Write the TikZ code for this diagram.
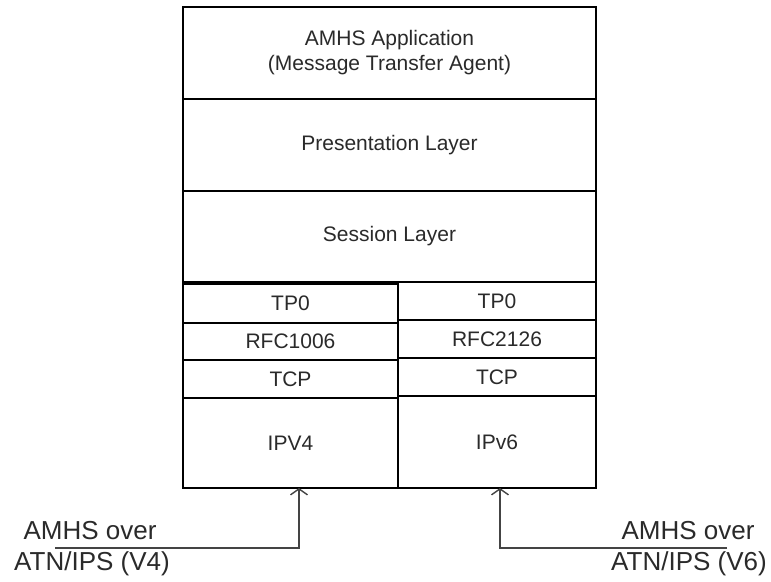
\documentclass[tikz,border=0pt]{standalone}
\usepackage{fontspec}
\setmainfont{Liberation Sans}
\usetikzlibrary{arrows.meta}
\definecolor{txt}{HTML}{2A2A2A}
\definecolor{arr}{HTML}{444444}
\begin{document}
\begin{tikzpicture}[x=1pt,y=-1pt,
  layer/.style={draw=black, line width=2.3pt, inner sep=0pt, outer sep=0pt,
    align=center, text=txt, font=\fontsize{21}{25}\selectfont},
  lbl/.style={text=txt, inner sep=0pt, align=center, font=\fontsize{26}{30}\selectfont},
  feed/.style={draw=arr, line width=1.7pt, -{Straight Barb[length=6pt,width=17pt,line width=1.4pt]}}]
\useasboundingbox (0,0) rectangle (771,581);
\fill[white] (0,0) rectangle (771,581);
% upper layers
\node[layer, minimum width=413pt, minimum height=92pt] (app) at (389.5,53)
  {AMHS Application\\(Message Transfer Agent)};
\node[layer, minimum width=413pt, minimum height=92pt] (pres) at (389.5,145) {Presentation Layer};
\node[layer, minimum width=413pt, minimum height=91pt] (sess) at (389.5,236.5) {Session Layer};
% left stack
\node[layer, minimum width=215pt, minimum height=39pt] (tpa) at (290.5,303.5) {TP0};
\node[layer, minimum width=215pt, minimum height=37pt] (rfca) at (290.5,341.5) {RFC1006};
\node[layer, minimum width=215pt, minimum height=38pt] (tcpa) at (290.5,379) {TCP};
\node[layer, minimum width=215pt, minimum height=90pt] (ipa) at (290.5,443) {IPV4};
% right stack
\node[layer, minimum width=198pt, minimum height=38pt] (tpb) at (497,301) {TP0};
\node[layer, minimum width=198pt, minimum height=38pt] (rfcb) at (497,339) {RFC2126};
\node[layer, minimum width=198pt, minimum height=38pt] (tcpb) at (497,377) {TCP};
\node[layer, minimum width=198pt, minimum height=92pt] (ipb) at (497,442) {IPv6};
% labels
\node[lbl] (l1) at (90,531) {AMHS over};
\node[lbl] (l2) at (92,564) {ATN/IPS (V4)};
\node[lbl] (r1) at (688,531) {AMHS over};
\node[lbl] (r2) at (689,564) {ATN/IPS (V6)};
% connectors
\coordinate (la) at (55,548);
\coordinate (lb) at (299,548);
\coordinate (ra) at (727,548);
\coordinate (rb) at (500,548);
\draw[feed] (la) -- (lb) -- (lb |- ipa.south);
\draw[feed] (ra) -- (rb) -- (rb |- ipb.south);
\end{tikzpicture}
\end{document}
